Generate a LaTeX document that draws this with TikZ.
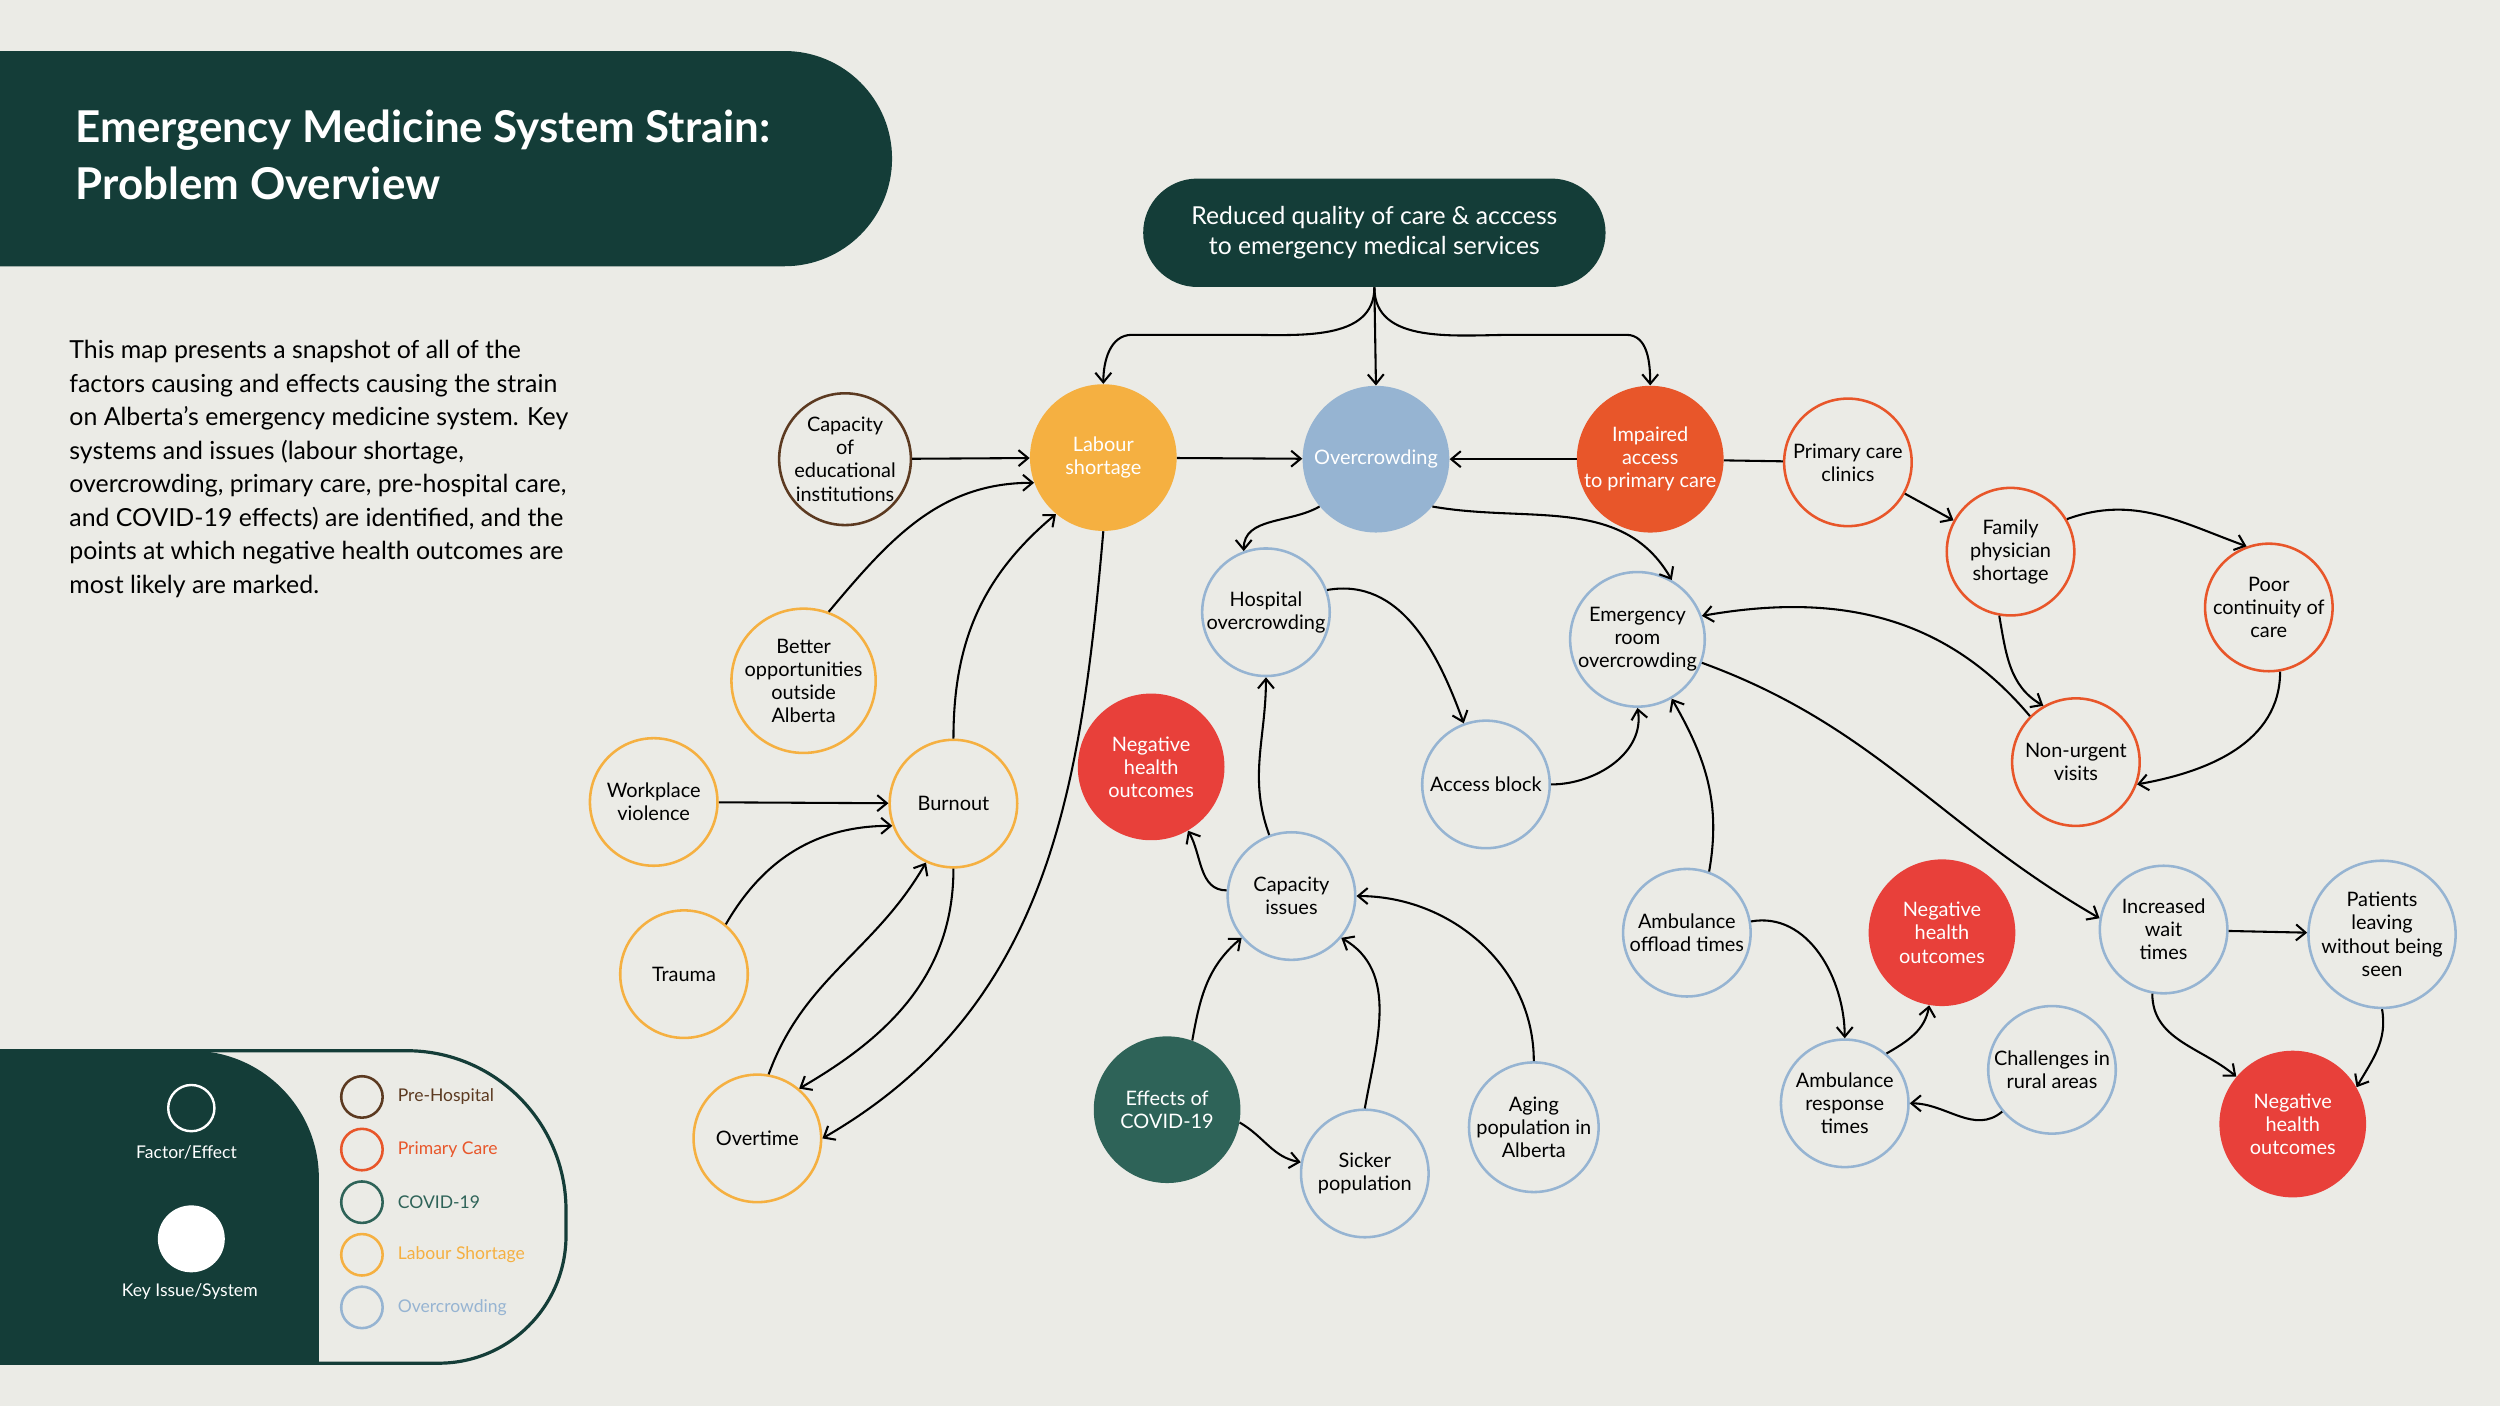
\documentclass[tikz,border=0pt]{standalone}
\usepackage{fontspec}
\setmainfont{Lato}
\usetikzlibrary{arrows.meta}
\definecolor{bg}{HTML}{EBEBE6}
\definecolor{dg}{HTML}{143D38}
\definecolor{brn}{HTML}{5C3A21}
\definecolor{org}{HTML}{E8562A}
\definecolor{cov}{HTML}{2E6358}
\definecolor{yel}{HTML}{F5B041}
\definecolor{blu}{HTML}{96B4D2}
\definecolor{red}{HTML}{E8403A}
\tikzset{
 fac/.style={circle,draw=#1,line width=1.6pt,minimum size=80pt,inner sep=0pt,align=center,font=\fontsize{12.5}{14.5}\selectfont,text=black},
 key/.style={circle,fill=#1,minimum size=92pt,inner sep=0pt,align=center,font=\fontsize{12.5}{14.5}\selectfont,text=white},
 ar/.style={-{Straight Barb[length=6pt,width=10pt]},line width=1.3pt},
 ln/.style={line width=1.3pt}
}
\begin{document}
\begin{tikzpicture}[x=1pt,y=1pt]
\fill[bg] (0,0) rectangle (1568,-882);
\useasboundingbox (0,0) rectangle (1568,-882);
% title banner
\fill[dg] (0,-32) -- (492,-32) arc[start angle=90,end angle=-90,radius=67.5] -- (0,-167) -- cycle;
\node[anchor=west,text=white,align=left,font=\fontsize{27.5}{36}\selectfont\bfseries] at (44,-97) {Emergency Medicine System Strain:\\Problem Overview};
\node[anchor=north west,align=left,font=\fontsize{15.6}{21}\selectfont] at (40,-210) {This map presents a snapshot of all of the\\factors causing and effects causing the strain\\on Alberta’s emergency medicine system. Key\\systems and issues (labour shortage,\\overcrowding, primary care, pre-hospital care,\\and COVID-19 effects) are identified, and the\\points at which negative health outcomes are\\most likely are marked.};
% legend
\draw[dg,line width=2pt,fill=bg] (-5,-659) -- (255,-659) arc[start angle=90,end angle=0,radius=100] -- (355,-775) arc[start angle=0,end angle=-90,radius=80] -- (-5,-855);
\fill[dg] (0,-659) -- (120,-659) arc[start angle=90,end angle=0,radius=80] -- (200,-855) -- (0,-855) -- cycle;
\node[circle,draw=white,line width=1.5pt,minimum size=29pt] (lf) at (120,-695) {};
\node[text=white,font=\fontsize{11}{12}\selectfont] (lft) at (117,-723) {Factor/Effect};
\node[circle,fill=white,minimum size=42pt] (lk) at (120,-777) {};
\node[text=white,font=\fontsize{11}{12}\selectfont] (lkt) at (119,-810) {Key Issue/System};
\foreach \y/\c/\t in {688/brn/Pre-Hospital,721/org/Primary Care,754/cov/COVID-19,787/yel/Labour Shortage,820/blu/Overcrowding}{
 \node[circle,draw=\c,line width=1.6pt,minimum size=26pt] at (227,-\y) {};
 \node[anchor=west,text=\c,font=\fontsize{11}{12}\selectfont] at (246,-\y) {\t};
}
% nodes
\node[fill=dg,rounded corners=34pt,minimum width=290pt,minimum height=68pt,text=white,align=center,font=\fontsize{15.5}{19}\selectfont] (top) at (862,-146) {Reduced quality of care \& acccess\\to emergency medical services};
\node[key=yel] (lab) at (692,-287) {Labour\\shortage};
\node[key=blu] (ovc) at (863,-288) {Overcrowding};
\node[key=org] (imp) at (1035,-288) {Impaired\\access\\to primary care};
\node[fac=brn] (edu) at (530,-288) {Capacity\\of\\educational\\institutions};
\node[fac=org] (pcc) at (1159,-290) {Primary care\\clinics};
\node[fac=org] (fps) at (1261,-346) {Family\\physician\\shortage};
\node[fac=org] (poc) at (1423,-381) {Poor\\continuity of\\care};
\node[fac=org] (nuv) at (1302,-478) {Non-urgent\\visits};
\node[fac=blu] (hov) at (794,-384) {Hospital\\overcrowding};
\node[fac=blu,minimum size=84pt] (erv) at (1027,-401) {Emergency\\room\\overcrowding};
\node[fac=blu] (acb) at (932,-492) {Access block};
\node[fac=yel,minimum size=88pt] (bop) at (504,-427) {Better\\opportunities\\outside\\Alberta};
\node[fac=yel] (wpv) at (410,-503) {Workplace\\violence};
\node[fac=yel] (bur) at (598,-504) {Burnout};
\node[fac=yel] (tra) at (429,-611) {Trauma};
\node[fac=yel] (ovt) at (475,-714) {Overtime};
\node[key=red] (nh1) at (722,-481) {Negative\\health\\outcomes};
\node[fac=blu] (cap) at (810,-562) {Capacity\\issues};
\node[key=cov] (cov) at (732,-696) {Effects of\\COVID-19};
\node[fac=blu] (sic) at (856,-736) {Sicker\\population};
\node[fac=blu] (age) at (962,-707) {Aging\\population in\\Alberta};
\node[fac=blu] (aof) at (1058,-585) {Ambulance\\offload times};
\node[key=red] (nh2) at (1218,-585) {Negative\\health\\outcomes};
\node[fac=blu] (art) at (1157,-692) {Ambulance\\response\\times};
\node[fac=blu] (cra) at (1287,-671) {Challenges in\\rural areas};
\node[fac=blu] (iwt) at (1357,-583) {Increased\\wait\\times};
\node[fac=blu,minimum size=84pt] (plw) at (1494,-586) {Patients\\leaving\\without being\\seen};
\node[key=red] (nh3) at (1438,-705) {Negative\\health\\outcomes};
% edges
\draw[ar] (top.south) to[out=-90,in=0] (780,-210) -- (710,-210) to[out=180,in=90] (lab.north);
\draw[ar] (top.south) to[out=-90,in=180] (950,-210) -- (1020,-210) to[out=0,in=90] (imp.north);
\draw[ar] (top.south) -- (ovc.north);
\draw[ar] (edu) -- (lab);
\draw[ar] (lab) -- (ovc);
\draw[ar] (imp) -- (ovc);
\draw[ln] (imp) -- (pcc);
\draw[ar] (pcc) -- (fps);
\draw[ar] (fps.30) to[out=20,in=160] (poc.110);
\draw[ar] (fps.-100) to[out=-80,in=150] (nuv.120);
\draw[ar] (poc.-80) to[out=-90,in=10] (nuv.-20);
\draw[ar] (nuv.135) to[out=130,in=10] (erv.20);
\draw[ar] (ovc.-140) to[out=-150,in=90] (hov.110);
\draw[ar] (ovc.-40) to[out=-10,in=120] (erv.60);
\draw[ar] (hov.20) to[out=10,in=110] (acb.110);
\draw[ar] (acb.0) to[out=0,in=-80] (erv.-90);
\draw[ar] (erv.-20) to[out=-20,in=150] (iwt.170);
\draw[ar] (cap.110) to[out=110,in=-90] (hov.-90);
\draw[ar] (cap.175) to[out=180,in=-60] (nh1.-60);
\draw[ar] (cov.70) to[out=80,in=-140] (cap.-140);
\draw[ar] (cov.-10) to[out=-30,in=170] (sic.170);
\draw[ar] (sic.90) to[out=80,in=-30] (cap.-40);
\draw[ar] (age.90) to[out=90,in=0] (cap.0);
\draw[ar] (aof.70) to[out=80,in=-60] (erv.-60);
\draw[ar] (aof.10) to[out=10,in=90] (art.90);
\draw[ar] (art.50) to[out=30,in=-100] (nh2.-100);
\draw[ar] (cra.-140) to[out=-140,in=0] (art.0);
\draw[ar] (iwt) -- (plw);
\draw[ar] (iwt.-100) to[out=-90,in=140] (nh3.140);
\draw[ar] (plw.-90) to[out=-80,in=60] (nh3.30);
\draw[ar] (bop.70) to[out=50,in=180] (lab.-160);
\draw[ar] (bur.90) to[out=90,in=-140] (lab.-130);
\draw[ar] (wpv) -- (bur);
\draw[ar] (tra.50) to[out=60,in=180] (bur.-160);
\draw[ar] (ovt.80) to[out=70,in=-120] (bur.-115);
\draw[ar] (bur.-90) to[out=-90,in=30] (ovt.50);
\draw[ar] (lab.-90) to[out=-95,in=30] (ovt.0);
\end{tikzpicture}
\end{document}
